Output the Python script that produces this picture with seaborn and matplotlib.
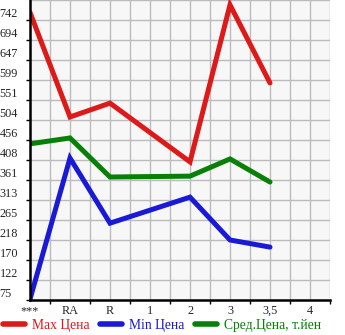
import matplotlib
matplotlib.use("Agg")
import matplotlib.pyplot as plt
import seaborn as sns
import pandas as pd
import numpy as np
from matplotlib.lines import Line2D

categories = ["***", "RA", "R", "1", "2", "3", "3,5", "4"]
max_price = [760, 511, 544, None, 404, 778, 592, None]
min_price = [77, 413, 258, None, 320, 218, 201, None]
avg_price = [447, 461, 368, None, 370, 411, 356, None]
ytick_labels = ["75", "122", "170", "218", "265", "313", "361", "408",
                "456", "504", "551", "599", "647", "694", "742"]
series_names = ["Max Цена", "Min Цена", "Сред.Цена, т.йен"]
colors = ["#dd1a1a", "#1a1ad6", "#088008"]

sns.set_theme(style="white")
plt.rcParams['font.family'] = ['Liberation Serif', 'DejaVu Serif']

rows = []
for name, vals in zip(series_names, [max_price, min_price, avg_price]):
    for i, v in enumerate(vals):
        if v is not None:
            rows.append({"x": i, "price": v, "series": name})
df = pd.DataFrame(rows)

fig = plt.figure(figsize=(3.45, 3.35), dpi=100)
ax = fig.add_axes([30/345, 35/335, 300/345, 300/335])
ax.set_facecolor("#f7f7f7")

sns.lineplot(data=df, x="x", y="price", hue="series", hue_order=series_names,
             palette=colors, linewidth=3.6, ax=ax, legend=False,
             solid_capstyle="round", solid_joinstyle="miter")

ystep = (742 - 75) / 14
yticks = [75 + ystep * k for k in range(15)]
ax.set_ylim(75, 75 + ystep * 15)
ax.set_xlim(0, 7.5)

ax.set_yticks(yticks)
ax.set_yticklabels(ytick_labels)
ax.set_xticks(range(len(categories)))
ax.set_xticklabels(categories)
ax.set_xticks(np.arange(0.5, 8, 0.5), minor=True)

ax.grid(False)
for gx in np.arange(0.5, 7.51, 0.5):
    ax.axvline(gx, color="#bbbbbb", linewidth=1.0, zorder=0)
for gy in yticks[1:] + [75 + ystep * 15]:
    ax.axhline(gy, color="#bbbbbb", linewidth=1.0, zorder=0)

for s in ["top", "right"]:
    ax.spines[s].set_visible(False)
for s in ["left", "bottom"]:
    ax.spines[s].set_color("black")
    ax.spines[s].set_linewidth(1.8)
    ax.spines[s].set_zorder(5)

ax.tick_params(axis="y", which="major", direction="out", length=3, width=1,
               color="black", labelsize=8.8, pad=19, left=True)
for lab in ax.get_yticklabels():
    lab.set_horizontalalignment("left")
    lab.set_verticalalignment("bottom")
ax.tick_params(axis="x", which="major", length=0, labelsize=8.8, pad=3.5)
ax.tick_params(axis="x", which="minor", direction="out", length=3, width=1,
               color="black", bottom=True)
ax.set_xlabel("")
ax.set_ylabel("")

handles = [Line2D([0], [0], color=c, linewidth=4, solid_capstyle="round")
           for c in colors]
leg = fig.legend(handles, series_names, loc="lower left",
                 bbox_to_anchor=(-0.02, -0.02), ncol=3, frameon=False,
                 fontsize=9.8, handlelength=1.65, handletextpad=0.5,
                 columnspacing=0.75, borderpad=0.2)
for t, c in zip(leg.get_texts(), colors):
    t.set_color(c)

fig.savefig("out.png", dpi=100)
